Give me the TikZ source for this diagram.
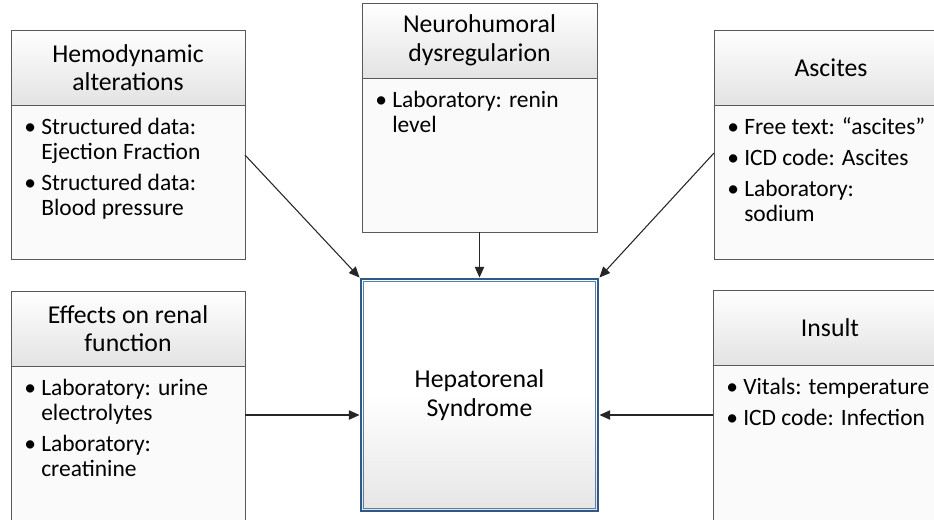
\documentclass[tikz,border=0pt]{standalone}
\usepackage{fontspec}
\setmainfont{Carlito}
\usetikzlibrary{arrows.meta}
\definecolor{boxline}{HTML}{595959}
\definecolor{hrsblue}{HTML}{2F5A87}
\definecolor{hrsinner}{HTML}{5A7FA8}
\newcommand{\bodyfont}{\fontsize{17.6}{18.75}\selectfont}
\newcommand{\headfont}{\fontsize{19.3}{21.5}\selectfont}
\begin{document}
\begin{tikzpicture}[x=0.75pt,y=-0.75pt,
  hdr/.style={draw=boxline, line width=0.75pt, top color=white, bottom color=black!11},
  bodyrect/.style={draw=boxline, line width=0.75pt, fill=black!2},
  ttl/.style={align=center, font=\headfont, inner sep=0},
  lst/.style={anchor=north west, inner sep=0, font=\bodyfont},
  conn/.style={draw=black!85, line width=0.8pt, -{Triangle[length=8pt,width=7pt]}}
]
\useasboundingbox (0,0) rectangle (934,519);
\begin{scope}
\clip (0,0) rectangle (934,519);
% Hemodynamic
\path[bodyrect] (11,105) rectangle (245,259);
\path[hdr] (11,30) rectangle (245,105);
\node[ttl] (hemoT) at (128,67.5) {Hemodynamic\\alterations};
\node[lst] (hemoL) at (24,116.5) {\begin{tabular}{@{}p{12.75pt}@{}l@{}}
\textbullet & Structured data:\\
 & Ejection Fraction\\[4.5pt]
\textbullet & Structured data:\\
 & Blood pressure
\end{tabular}};
% Neurohumoral
\path[bodyrect] (362,78) rectangle (597,232);
\path[hdr] (362,3) rectangle (597,78);
\node[ttl] (neuroT) at (479.5,40) {Neurohumoral\\dysregularion};
\node[lst] (neuroL) at (375,89.5) {\begin{tabular}{@{}p{12.75pt}@{}l@{}}
\textbullet & Laboratory: renin\\
 & level
\end{tabular}};
% Ascites
\path[bodyrect] (714,105) rectangle (948,259);
\path[hdr] (714,30) rectangle (948,105);
\node[ttl] (ascT) at (831,67.5) {Ascites};
\node[lst] (ascL) at (727,116.5) {\begin{tabular}{@{}p{12.75pt}@{}l@{}}
\textbullet & Free text: “ascites”\\[4.5pt]
\textbullet & ICD code: Ascites\\[4.5pt]
\textbullet & Laboratory:\\
 & sodium
\end{tabular}};
% Effects
\path[bodyrect] (11,366) rectangle (245,540);
\path[hdr] (11,291) rectangle (245,366);
\node[ttl] (effT) at (128,328.5) {Effects on renal\\function};
\node[lst] (effL) at (24,377.5) {\begin{tabular}{@{}p{12.75pt}@{}l@{}}
\textbullet & Laboratory: urine\\
 & electrolytes\\[4.5pt]
\textbullet & Laboratory:\\
 & creatinine
\end{tabular}};
% Insult
\path[bodyrect] (713,365) rectangle (947,540);
\path[hdr] (713,290) rectangle (947,365);
\node[ttl] (insT) at (830,327.5) {Insult};
\node[lst] (insL) at (726,376.5) {\begin{tabular}{@{}p{12.75pt}@{}l@{}}
\textbullet & Vitals: temperature\\[4.5pt]
\textbullet & ICD code: Infection
\end{tabular}};
\end{scope}
% Central
\node[draw=hrsblue, line width=2.2pt, minimum width=177.75pt, minimum height=174pt,
      top color=white, bottom color=black!10, middle color=white,
      align=center, font=\headfont] (hrs) at (479.5,395) {Hepatorenal\\Syndrome};
\draw[hrsinner, line width=0.7pt] ([shift={(4,4)}]hrs.north west) rectangle ([shift={(-4,-4)}]hrs.south east);
% connectors
\coordinate (hemoOut) at (245,155);
\coordinate (ascOut) at (714,153);
\coordinate (neuroOut) at (479.5,232);
\coordinate (effOut) at (245,415);
\coordinate (insOut) at (713,415);
\draw[conn] (hemoOut) -- (hrs.north west);
\draw[conn] (ascOut) -- (hrs.north east);
\draw[conn] (neuroOut) -- (hrs.north);
\draw[conn] (effOut) -- (effOut -| hrs.west);
\draw[conn] (insOut) -- (insOut -| hrs.east);
\end{tikzpicture}
\end{document}
